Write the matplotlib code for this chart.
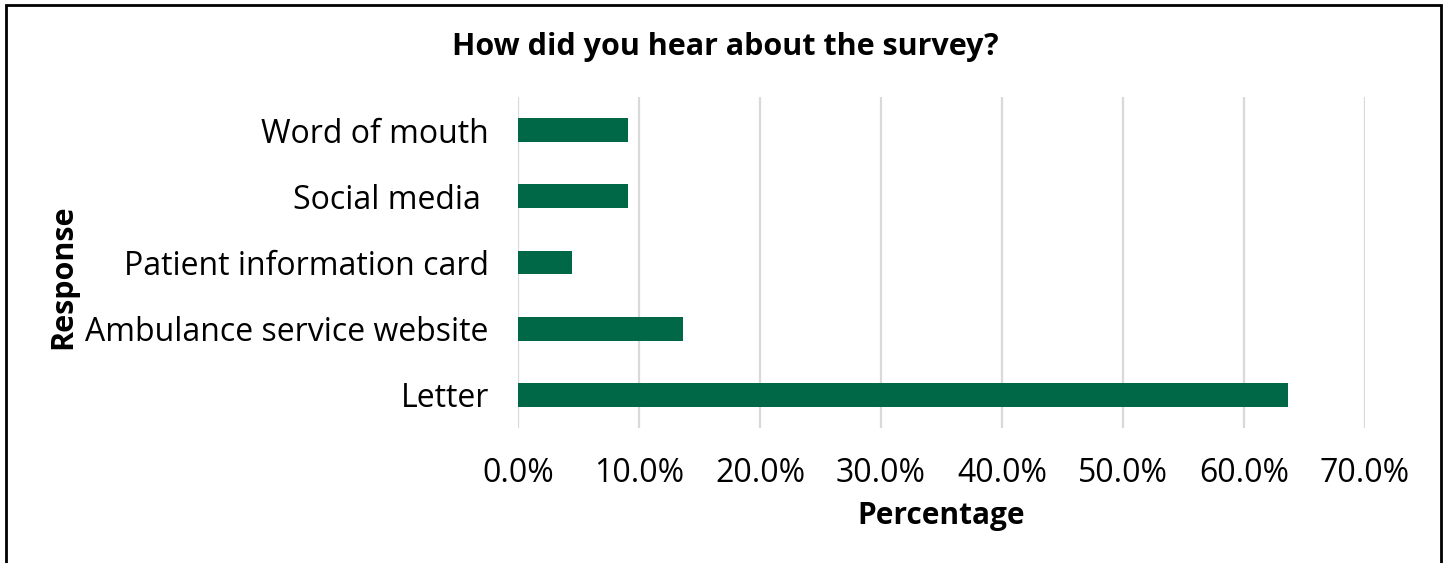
import matplotlib.pyplot as plt
from matplotlib.patches import Rectangle
from matplotlib.ticker import FuncFormatter

# responses (bottom to top) and share of respondents, %
responses = ['Letter', 'Ambulance service website', 'Patient information card',
             'Social media ', 'Word of mouth']
share = [63.6, 13.6, 4.5, 9.1, 9.1]
x_ticks = [0, 10, 20, 30, 40, 50, 60, 70]

plt.rcParams['font.family'] = ['Open Sans', 'DejaVu Sans']

fig = plt.figure(figsize=(14.46, 5.63), dpi=100)
ax = fig.add_axes([518 / 1446, 1 - 428 / 563, (1365 - 518) / 1446, (428 - 97) / 563])

ax.barh(range(len(responses)), share, height=0.36, color='#006747', zorder=3)

ax.set_xlim(0, 70)
ax.set_ylim(-0.5, len(responses) - 0.5)
ax.set_xticks(x_ticks)
ax.xaxis.set_major_formatter(FuncFormatter(lambda v, p: f'{v:.1f}%'))
ax.set_yticks(range(len(responses)))
ax.set_yticklabels(responses)
ax.tick_params(axis='x', length=0, pad=21, labelsize=23)
ax.tick_params(axis='y', length=0, pad=21, labelsize=23)
ax.grid(axis='x', color='#d9d9d9', linewidth=1.6, zorder=0)
for s in ax.spines.values():
    s.set_visible(False)

ax.set_xlabel('Percentage', fontsize=21.5, fontweight='bold', labelpad=8)
fig.text(63 / 1446, 1 - 277 / 563, 'Response', rotation=90, fontsize=22,
         fontweight='bold', ha='center', va='center')
fig.text(725 / 1446, 1 - 47 / 563, 'How did you hear about the survey?',
         fontsize=22, fontweight='bold', ha='center', va='center')

# outer frame
fig.add_artist(Rectangle((6 / 1446, -0.05), (1441 - 6) / 1446, 1.05 - 5 / 563,
                         transform=fig.transFigure, fill=False,
                         edgecolor='black', linewidth=2))

fig.savefig('out.png', dpi=100)
